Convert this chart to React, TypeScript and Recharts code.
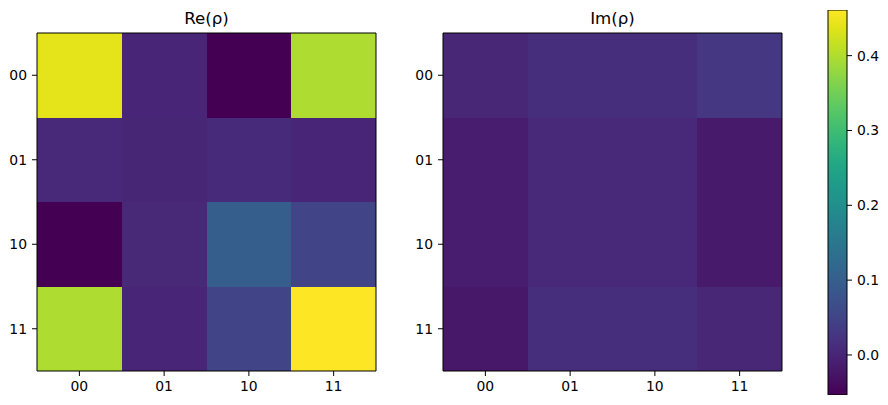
import React from 'react'
import { ScatterChart, Scatter, XAxis, YAxis, ReferenceArea, BarChart, Bar } from 'recharts'

// basis labels shared by rows and columns
const BASIS = ['00', '01', '10', '11']

// real part of the density matrix, row by row
const RE_ROWS = [
  [0.44, 0.0, -0.053, 0.398],
  [0.004, 0.001, 0.008, 0.0],
  [-0.053, 0.006, 0.098, 0.05],
  [0.398, 0.0, 0.05, 0.461],
]

// imaginary part
const IM_ROWS = [
  [0.002, 0.014, 0.014, 0.028],
  [-0.012, 0.004, 0.004, -0.017],
  [-0.012, 0.004, 0.004, -0.017],
  [-0.022, 0.014, 0.014, 0.003],
]

// colorbar range + ticks
const CB_MIN = -0.0535
const CB_MAX = 0.461
const CB_TICKS = [0, 0.1, 0.2, 0.3, 0.4]

// viridis, sampled every 5%
const VIRIDIS = [
  '#440154', '#471365', '#482475', '#463480', '#414487', '#3b528b', '#355f8d',
  '#2f6c8e', '#2a788e', '#25848e', '#21918c', '#1e9c89', '#22a884', '#2fb47c',
  '#44bf70', '#5ec962', '#7ad151', '#9bd93c', '#bddf26', '#dfe318', '#fde725',
]

const FONT = '"DejaVu Sans", sans-serif'
const TICK = { fill: '#000', fontSize: 13.9, fontFamily: FONT }

function hexToRgb(h: string): number[] {
  return [1, 3, 5].map((i) => parseInt(h.slice(i, i + 2), 16))
}

function viridis(v: number): string {
  const t = Math.min(1, Math.max(0, (v - CB_MIN) / (CB_MAX - CB_MIN)))
  const pos = t * (VIRIDIS.length - 1)
  const i = Math.min(VIRIDIS.length - 2, Math.floor(pos))
  const f = pos - i
  const a = hexToRgb(VIRIDIS[i])
  const b = hexToRgb(VIRIDIS[i + 1])
  const c = a.map((x, k) => Math.round(x + (b[k] - x) * f))
  return `rgb(${c[0]},${c[1]},${c[2]})`
}

interface HeatmapProps {
  title: string
  rows: number[][]
  left: number
  yAxisWidth: number
  marginRight: number
}

function Heatmap({ title, rows, left, yAxisWidth, marginRight }: HeatmapProps) {
  const cells = rows.flatMap((row, r) => row.map((v, c) => ({ x: c, y: r, v })))
  const plotLeft = yAxisWidth
  const plotWidth = 400 - yAxisWidth - marginRight

  return (
    <div style={{ position: 'absolute', left, top: 0, width: 400, height: 405 }}>
      <div
        style={{
          position: 'absolute',
          left: plotLeft,
          width: plotWidth,
          top: 9,
          height: 20,
          lineHeight: '20px',
          textAlign: 'center',
          fontFamily: FONT,
          fontSize: 16.67,
          color: '#000',
        }}
      >
        {title}
      </div>
      <ScatterChart width={400} height={405} margin={{ top: 33, right: marginRight, bottom: 4, left: 0 }}>
        <XAxis
          type="number"
          dataKey="x"
          domain={[-0.5, 3.5]}
          ticks={[0, 1, 2, 3]}
          tickFormatter={(i: number) => BASIS[i]}
          allowDataOverflow
          height={30}
          axisLine={false}
          tickSize={5}
          tickMargin={5}
          tickLine={{ stroke: '#000' }}
          tick={TICK}
        />
        <YAxis
          type="number"
          dataKey="y"
          reversed
          domain={[-0.5, 3.5]}
          ticks={[0, 1, 2, 3]}
          tickFormatter={(i: number) => BASIS[i]}
          allowDataOverflow
          width={yAxisWidth}
          axisLine={false}
          tickSize={5}
          tickMargin={5}
          tickLine={{ stroke: '#000' }}
          tick={TICK}
        />
        {cells.map((d) => (
          <ReferenceArea
            key={`${d.x}-${d.y}`}
            x1={d.x - 0.5}
            x2={d.x + 0.5}
            y1={d.y - 0.5}
            y2={d.y + 0.5}
            fill={viridis(d.v)}
            fillOpacity={1}
            stroke="none"
            shapeRendering="crispEdges"
          />
        ))}
        {/* axes frame */}
        <ReferenceArea x1={-0.5} x2={3.5} y1={-0.5} y2={3.5} fill="none" stroke="#000" strokeWidth={1} />
        <Scatter data={cells} shape={() => <g />} isAnimationActive={false} />
      </ScatterChart>
    </div>
  )
}

function Colorbar() {
  const data = [{ k: 'cb', range: [CB_MIN, CB_MAX] }]
  return (
    <div style={{ position: 'absolute', left: 820, top: 0, width: 68, height: 405 }}>
      <BarChart width={68} height={405} data={data} margin={{ top: 10, right: 0, bottom: 10, left: 8 }} barCategoryGap={0}>
        <defs>
          <linearGradient id="viridisGrad" x1="0" y1="1" x2="0" y2="0">
            {VIRIDIS.map((c, i) => (
              <stop key={i} offset={`${(i / (VIRIDIS.length - 1)) * 100}%`} stopColor={c} />
            ))}
          </linearGradient>
        </defs>
        <XAxis dataKey="k" hide />
        <YAxis
          orientation="right"
          type="number"
          domain={[CB_MIN, CB_MAX]}
          ticks={CB_TICKS}
          tickFormatter={(v: number) => v.toFixed(1)}
          allowDataOverflow
          width={41}
          axisLine={false}
          tickSize={5}
          tickMargin={5}
          tickLine={{ stroke: '#000' }}
          tick={TICK}
        />
        <Bar dataKey="range" fill="url(#viridisGrad)" stroke="#000" strokeWidth={1} isAnimationActive={false} />
      </BarChart>
    </div>
  )
}

export default function App() {
  return (
    <div style={{ position: 'absolute', left: 0, top: 0, width: 888, height: 405, background: '#fff' }}>
      <Heatmap title="Re(ρ)" rows={RE_ROWS} left={0} yAxisWidth={37} marginRight={24} />
      <Heatmap title="Im(ρ)" rows={IM_ROWS} left={400} yAxisWidth={43} marginRight={18} />
      <Colorbar />
    </div>
  )
}
